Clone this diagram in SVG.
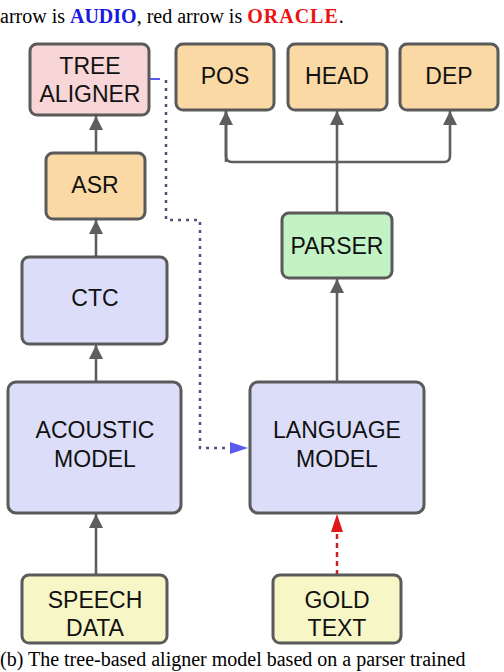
<svg xmlns="http://www.w3.org/2000/svg" width="504" height="672" viewBox="0 0 504 672">
<defs>
<style>
.box{stroke:#5a5a5a;stroke-width:3}
.lbl{font-family:"Liberation Sans",Arial,sans-serif;font-size:23px;fill:#111;text-anchor:middle}
.cap{font-family:"Liberation Serif","Times New Roman",serif;font-size:20px;fill:#000}
.conn{fill:none;stroke:#5e5e5e;stroke-width:2.6}
.orange{fill:#fbd9a5}
.blue{fill:#dcdef9}
.yellow{fill:#f7f6c6}
</style>
<marker id="ah" markerUnits="userSpaceOnUse" markerWidth="14" markerHeight="18" viewBox="0 0 14 18" refX="14" refY="7" orient="auto">
<path d="M0,0 L14,7 L0,14 Z" fill="#5e5e5e"/>
</marker>
<marker id="ahb" markerUnits="userSpaceOnUse" markerWidth="18" markerHeight="14" viewBox="0 0 18 14" refX="18" refY="6" orient="auto">
<path d="M0,0 L18,6 L0,12 Z" fill="#5a5af0"/>
</marker>
<marker id="ahr" markerUnits="userSpaceOnUse" markerWidth="18" markerHeight="14" viewBox="0 0 18 14" refX="18" refY="6" orient="auto">
<path d="M0,0 L18,6 L0,12 Z" fill="#e01818"/>
</marker>
</defs>
<rect width="504" height="672" fill="#ffffff"/>
<text class="cap" x="0" y="23">arrow is <tspan fill="#1a1adf" font-weight="bold">AUDIO</tspan>, red arrow is <tspan fill="#ee1111" font-weight="bold" letter-spacing="1">ORACLE</tspan>.</text>
<text class="cap" x="0" y="666" font-size="18">(b) The tree-based aligner model based on a parser trained</text>

<g id="connectors">
<line class="conn" x1="96" y1="153" x2="96" y2="116" marker-end="url(#ah)"/>
<line class="conn" x1="96" y1="257" x2="96" y2="220" marker-end="url(#ah)"/>
<line class="conn" x1="96" y1="382" x2="96" y2="345" marker-end="url(#ah)"/>
<line class="conn" x1="96" y1="575" x2="96" y2="514" marker-end="url(#ah)"/>
<line class="conn" x1="337" y1="382" x2="337" y2="279" marker-end="url(#ah)"/>
<path class="conn" d="M337,213 V162"/>
<path class="conn" d="M226,111 V156 Q226,162 232,162 H444 Q450,162 450,156 V111" marker-end="url(#ah)"/>
<path class="conn" d="M226,162 V111" marker-end="url(#ah)"/>
<line class="conn" x1="337" y1="162" x2="337" y2="111" marker-end="url(#ah)"/>
<line x1="150" y1="79" x2="160" y2="79" stroke="#5a5af0" stroke-width="2"/>
<path d="M166,80 V220 H200 V448 H232" fill="none" stroke="#50507c" stroke-width="2.5" stroke-dasharray="3,5"/>
<path d="M230,448 L248,448" stroke="#5a5af0" stroke-width="0.1" marker-end="url(#ahb)"/>
<line x1="337" y1="575" x2="337" y2="530" stroke="#cc2020" stroke-width="2.5" stroke-dasharray="5,4"/>
<path d="M337,532 V514" stroke="#e01818" stroke-width="0.1" marker-end="url(#ahr)"/>
</g>

<g id="tree_aligner">
<rect class="box" x="30" y="44" width="119" height="71" rx="7" fill="#f8d5d6"/>
<text class="lbl" x="90" y="74">TREE</text>
<text class="lbl" x="90" y="102">ALIGNER</text>
</g>
<g id="pos">
<rect class="box orange" x="176" y="44" width="98" height="66" rx="7"/>
<text class="lbl" x="225" y="84">POS</text>
</g>
<g id="head">
<rect class="box orange" x="288" y="44" width="99" height="66" rx="7"/>
<text class="lbl" x="337" y="84">HEAD</text>
</g>
<g id="dep">
<rect class="box orange" x="400" y="44" width="98" height="66" rx="7"/>
<text class="lbl" x="449" y="84">DEP</text>
</g>
<g id="asr">
<rect class="box orange" x="46" y="153" width="99" height="66" rx="7"/>
<text class="lbl" x="95" y="193">ASR</text>
</g>
<g id="parser">
<rect class="box" x="282" y="213" width="110" height="65" rx="7" fill="#c3f2c5"/>
<text class="lbl" x="337" y="254">PARSER</text>
</g>
<g id="ctc">
<rect class="box blue" x="22" y="257" width="145" height="87" rx="7"/>
<text class="lbl" x="95" y="306">CTC</text>
</g>
<g id="acoustic_model">
<rect class="box blue" x="8" y="382" width="173" height="131" rx="8"/>
<text class="lbl" x="95" y="438">ACOUSTIC</text>
<text class="lbl" x="95" y="467">MODEL</text>
</g>
<g id="language_model">
<rect class="box blue" x="250" y="382" width="174" height="131" rx="8"/>
<text class="lbl" x="337" y="438">LANGUAGE</text>
<text class="lbl" x="337" y="467">MODEL</text>
</g>
<g id="speech_data">
<rect class="box yellow" x="22" y="575" width="145" height="68" rx="7"/>
<text class="lbl" x="95" y="608">SPEECH</text>
<text class="lbl" x="95" y="636">DATA</text>
</g>
<g id="gold_text">
<rect class="box yellow" x="273" y="575" width="128" height="68" rx="7"/>
<text class="lbl" x="337" y="608">GOLD</text>
<text class="lbl" x="337" y="636">TEXT</text>
</g>
</svg>
